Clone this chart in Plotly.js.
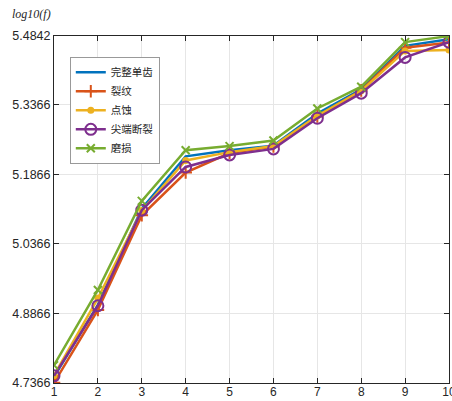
<!DOCTYPE html>
<html><head><meta charset="utf-8">
<script src="https://cdn.plot.ly/plotly-3.0.1.min.js"></script>
<style>body{margin:0;padding:0;background:#fff;}</style>
</head><body>
<div id="chart" style="width:452px;height:401px;"></div>
<script>
const xValues = [1,2,3,4,5,6,7,8,9,10];
const seriesNames = ['完整单齿','裂纹','点蚀','尖端断裂','磨损'];
const complete = [4.750, 4.905, 5.112, 5.225, 5.238, 5.248, 5.317, 5.369, 5.463, 5.477];
const crack    = [4.737, 4.894, 5.098, 5.190, 5.232, 5.246, 5.311, 5.367, 5.459, 5.470];
const pitting  = [4.753, 4.919, 5.108, 5.216, 5.234, 5.247, 5.312, 5.366, 5.452, 5.454];
const tipBreak = [4.752, 4.903, 5.109, 5.202, 5.228, 5.241, 5.307, 5.361, 5.438, 5.471];
const wear     = [4.775, 4.937, 5.129, 5.238, 5.247, 5.259, 5.328, 5.375, 5.471, 5.484];
const yTicks = [4.7366, 4.8866, 5.0366, 5.1866, 5.3366, 5.4842];
const yTickText = ['4.7366','4.8866','5.0366','5.1866','5.3366','5.4842'];

const colors = ['#0072BD','#D95319','#EDB120','#7E2F8E','#77AC30'];
const data = [complete, crack, pitting, tipBreak, wear];
const markers = [
  {size:1, symbol:'circle', opacity:0},
  {size:9, symbol:'cross-thin-open', line:{width:2, color:colors[1]}},
  {size:7, symbol:'circle', color:colors[2]},
  {size:11, symbol:'circle-open', line:{width:2, color:colors[3]}},
  {size:8, symbol:'x-thin-open', line:{width:2, color:colors[4]}}
];
const traces = data.map((ys,i)=>({
  x: xValues, y: ys, name: seriesNames[i], type:'scatter',
  mode: i===0 ? 'lines' : 'lines+markers',
  line:{color:colors[i], width:2.5},
  marker: Object.assign({color:colors[i]}, markers[i]),
  cliponaxis: true
}));

const layout = {
  width:452, height:401,
  margin:{l:54, r:3, t:36, b:18, pad:0},
  paper_bgcolor:'#fff', plot_bgcolor:'#fff',
  showlegend:true,
  font:{family:'Liberation Sans, Arial, sans-serif', size:12, color:'#262626'},
  xaxis:{range:[1,10], tickvals:xValues, ticks:'inside', ticklen:5, tickcolor:'#262626',
    showgrid:true, gridcolor:'#e6e6e6', gridwidth:1, zeroline:false,
    showline:true, linecolor:'#262626', linewidth:1, mirror:'ticks',
    ticklabeloverflow:'allow', ticklabelstandoff:-2,
    tickfont:{size:12, color:'#262626'}},
  yaxis:{range:[4.7366,5.4842], tickvals:yTicks, ticktext:yTickText, ticks:'inside', ticklen:5, tickcolor:'#262626',
    showgrid:true, gridcolor:'#e6e6e6', gridwidth:1, zeroline:false,
    showline:true, linecolor:'#262626', linewidth:1, mirror:'ticks',
    ticklabeloverflow:'allow',
    tickfont:{size:12.5, color:'#262626'}},
  legend:{x:0.04, y:0.94, xanchor:'left', yanchor:'top', bgcolor:'#fff',
    bordercolor:'#999', borderwidth:1, tracegroupgap:0,
    font:{family:'Noto Sans CJK SC, sans-serif', size:10.5, color:'#262626'}},
  annotations:[{text:'<i>log10(f)</i>', xref:'paper', yref:'paper', x:-0.111, y:1.037,
    xanchor:'left', yanchor:'bottom', showarrow:false,
    font:{family:'Liberation Serif, serif', size:12, color:'#262626'}}]
};
Plotly.newPlot('chart', traces, layout, {displayModeBar:false, staticPlot:true});
</script>
</body></html>
